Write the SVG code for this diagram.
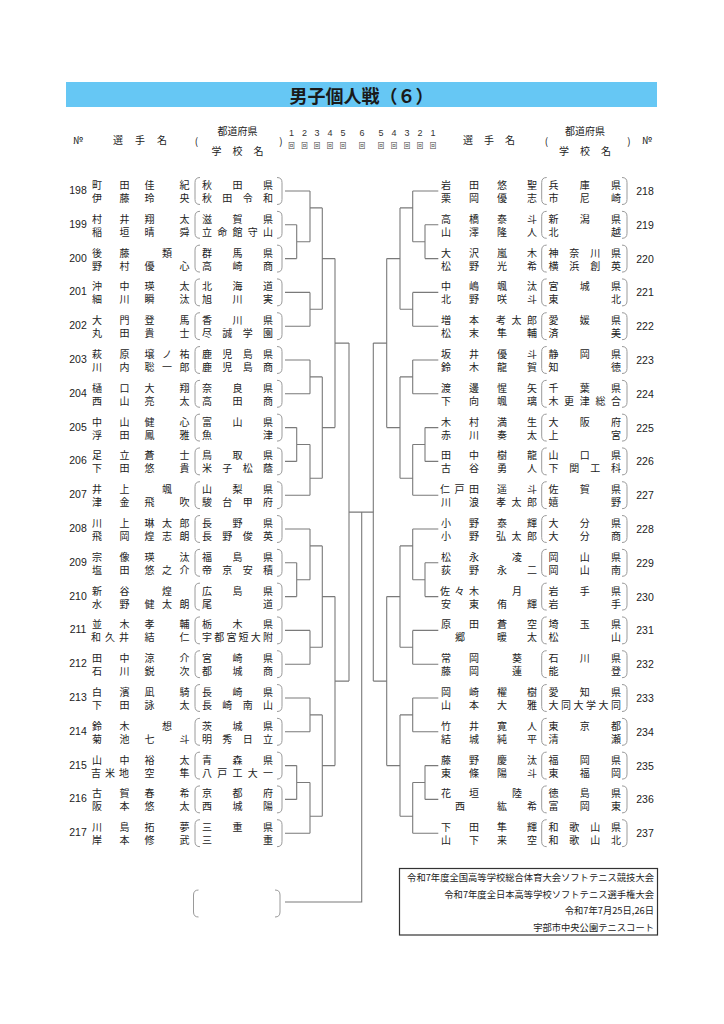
<svg xmlns="http://www.w3.org/2000/svg" xmlns:xlink="http://www.w3.org/1999/xlink" width="724" height="1024" viewBox="0 0 724 1024">
<style>
.t{font-family:"Noto Sans CJK JP","Noto Sans CJK SC",sans-serif;font-size:10px;fill:#222;text-anchor:middle;dominant-baseline:central}
.n{font-family:"Liberation Sans",Arial,sans-serif;font-size:10.5px;fill:#222;text-anchor:middle;dominant-baseline:central}
.h{font-family:"Noto Sans CJK JP","Noto Sans CJK SC",sans-serif;font-size:10px;fill:#222;text-anchor:middle;dominant-baseline:central}
.r{font-family:"Liberation Sans",Arial,sans-serif;font-size:9px;fill:#333;text-anchor:middle;dominant-baseline:central}
.k{font-family:"Noto Sans CJK JP",sans-serif;font-size:6.5px;fill:#444;text-anchor:middle;dominant-baseline:central}
.f{font-family:"Noto Sans CJK JP","Noto Sans CJK SC",sans-serif;font-size:9.3px;fill:#222;text-anchor:end;dominant-baseline:central}
.ln{fill:none;stroke:#7a7a7a;stroke-width:1.1}
.pp{fill:none;stroke:#9a9a9a;stroke-width:1}
</style>
<defs>
<path id="pl" class="pp" d="M5 -13.5 Q0 -13.5 0 -8.5 V8.5 Q0 13.5 5 13.5"/>
<path id="pr" class="pp" d="M-5 -13.5 Q0 -13.5 0 -8.5 V8.5 Q0 13.5 -5 13.5"/>
</defs>
<rect width="724" height="1024" fill="#fff"/>
<g id="title">
<rect x="66" y="82" width="591" height="25" fill="#66C7F4"/>
<text x="361.5" y="94.5" style="font-family:'Noto Sans CJK JP',sans-serif;font-size:18px;font-weight:700;fill:#1a1a1a;text-anchor:middle;dominant-baseline:central">男子個人戦（６）</text>
</g>
<g id="header">
<text class="h" x="78" y="139">№</text>
<text class="h" x="118 140 162" y="139">選手名</text>
<text class="h" x="196.5" y="140">(</text>
<text class="h" x="237.5" y="130">都道府県</text>
<text class="h" x="216.5 237.5 258.5" y="150">学校名</text>
<text class="h" x="281" y="140">)</text>
<text class="r" x="291.5 304.5 317 330 343 362 381 394 407 420 433" y="133">12345654321</text>
<text class="k" x="291.5 304.5 317 330 343 362 381 394 407 420 433" y="145">回回回回回回回回回回回</text>
<text class="h" x="468 489 510" y="139">選手名</text>
<text class="h" x="546.5" y="140">(</text>
<text class="h" x="585" y="130">都道府県</text>
<text class="h" x="564 585 606" y="150">学校名</text>
<text class="h" x="629" y="140">)</text>
<text class="h" x="647" y="139">№</text>
</g>
<g id="connectors" class="ln">
<path d="M285 191H310M285 224.8H296.7M285 258.6H296.7M296.7 224.8V258.6M296.7 241.7H310M310 191V241.7M310 207.9H322.3
M285 292.4H310M285 326.2H310M310 292.4V326.2M310 309.3H322.3M322.3 207.9V309.3M322.3 258.6H335
M285 360H310M285 393.8H310M310 360V393.8M310 376.9H322.3
M285 427.6H296.7M285 461.4H296.7M296.7 427.6V461.4M296.7 444.5H310M285 495.2H310M310 444.5V495.2M310 478.3H322.3
M322.3 376.9V478.3M322.3 427.6H335M335 258.6V427.6M335 343.1H349
M285 529H310M285 562.8H296.7M285 596.6H296.7M296.7 562.8V596.6M296.7 579.7H310M310 529V579.7M310 545.9H322.3
M285 630.4H310M285 664.2H310M310 630.4V664.2M310 647.3H322.3M322.3 545.9V647.3M322.3 596.6H335
M285 698H310M285 731.8H310M310 698V731.8M310 714.9H322.3
M285 765.6H296.7M285 799.4H296.7M296.7 765.6V799.4M296.7 782.5H310M285 833.2H310M310 782.5V833.2M310 816.3H322.3
M322.3 714.9V816.3M322.3 765.6H335M335 596.6V765.6M335 681.1H349M349 343.1V681.1"/>
<path d="M438.3 191H412.7M438.3 224.8H425M438.3 258.6H425M425 224.8V258.6M425 241.7H412.7M412.7 191V241.7M412.7 207.9H400
M438.3 292.4H412.7M438.3 326.2H412.7M412.7 292.4V326.2M412.7 309.3H400M400 207.9V309.3M400 258.6H386.7
M438.3 360H412.7M438.3 393.8H412.7M412.7 360V393.8M412.7 376.9H400
M438.3 427.6H425M438.3 461.4H425M425 427.6V461.4M425 444.5H412.7M438.3 495.2H412.7M412.7 444.5V495.2M412.7 478.3H400
M400 376.9V478.3M400 427.6H386.7M386.7 258.6V427.6M386.7 343.1H373.3
M438.3 529H412.7M438.3 562.8H425M438.3 596.6H425M425 562.8V596.6M425 579.7H412.7M412.7 529V579.7M412.7 545.9H400
M438.3 630.4H412.7M438.3 664.2H412.7M412.7 630.4V664.2M412.7 647.3H400M400 545.9V647.3M400 596.6H386.7
M438.3 698H412.7M438.3 731.8H412.7M412.7 698V731.8M412.7 714.9H400
M438.3 765.6H425M438.3 799.4H425M425 765.6V799.4M425 782.5H412.7M438.3 833.2H412.7M412.7 782.5V833.2M412.7 816.3H400
M400 714.9V816.3M400 765.6H386.7M386.7 596.6V765.6M386.7 681.1H373.3M373.3 343.1V681.1"/>
<path d="M349 512.1H373.3M361.7 512.1V902H285"/>
</g>
<g id="e198" transform="translate(0,191)"><text class="n" x="78" y="-1">198</text><text class="t" x="97 124.5" y="-6.5">町田</text><text class="t" x="149.5 184.5" y="-6.5">佳紀</text><text class="t" x="97 124.5" y="6.5">伊藤</text><text class="t" x="149.5 184.5" y="6.5">玲央</text><use href="#pl" x="195"/><use href="#pr" x="282"/><text class="t" x="207 237.5 268" y="-6.5">秋田県</text><text class="t" x="207 227.3 247.7 268" y="6.5">秋田令和</text></g>
<g id="e199" transform="translate(0,224.8)"><text class="n" x="78" y="-1">199</text><text class="t" x="97 124.5" y="-6.5">村井</text><text class="t" x="149.5 184.5" y="-6.5">翔太</text><text class="t" x="97 124.5" y="6.5">稲垣</text><text class="t" x="149.5 184.5" y="6.5">晴舜</text><use href="#pl" x="195"/><use href="#pr" x="282"/><text class="t" x="207 237.5 268" y="-6.5">滋賀県</text><text class="t" x="207 222.3 237.5 252.8 268" y="6.5">立命館守山</text></g>
<g id="e200" transform="translate(0,258.6)"><text class="n" x="78" y="-1">200</text><text class="t" x="97 124.5" y="-6.5">後藤</text><text class="t" x="167" y="-6.5">類</text><text class="t" x="97 124.5" y="6.5">野村</text><text class="t" x="149.5 184.5" y="6.5">優心</text><use href="#pl" x="195"/><use href="#pr" x="282"/><text class="t" x="207 237.5 268" y="-6.5">群馬県</text><text class="t" x="207 237.5 268" y="6.5">高崎商</text></g>
<g id="e201" transform="translate(0,292.4)"><text class="n" x="78" y="-1">201</text><text class="t" x="97 124.5" y="-6.5">沖中</text><text class="t" x="149.5 184.5" y="-6.5">瑛太</text><text class="t" x="97 124.5" y="6.5">細川</text><text class="t" x="149.5 184.5" y="6.5">瞬汰</text><use href="#pl" x="195"/><use href="#pr" x="282"/><text class="t" x="207 237.5 268" y="-6.5">北海道</text><text class="t" x="207 237.5 268" y="6.5">旭川実</text></g>
<g id="e202" transform="translate(0,326.2)"><text class="n" x="78" y="-1">202</text><text class="t" x="97 124.5" y="-6.5">大門</text><text class="t" x="149.5 184.5" y="-6.5">登馬</text><text class="t" x="97 124.5" y="6.5">丸田</text><text class="t" x="149.5 184.5" y="6.5">貴士</text><use href="#pl" x="195"/><use href="#pr" x="282"/><text class="t" x="207 237.5 268" y="-6.5">香川県</text><text class="t" x="207 227.3 247.7 268" y="6.5">尽誠学園</text></g>
<g id="e203" transform="translate(0,360)"><text class="n" x="78" y="-1">203</text><text class="t" x="97 124.5" y="-6.5">萩原</text><text class="t" x="149.5 167 184.5" y="-6.5">壌ノ祐</text><text class="t" x="97 124.5" y="6.5">川内</text><text class="t" x="149.5 167 184.5" y="6.5">聡一郎</text><use href="#pl" x="195"/><use href="#pr" x="282"/><text class="t" x="207 227.3 247.7 268" y="-6.5">鹿児島県</text><text class="t" x="207 227.3 247.7 268" y="6.5">鹿児島商</text></g>
<g id="e204" transform="translate(0,393.8)"><text class="n" x="78" y="-1">204</text><text class="t" x="97 124.5" y="-6.5">樋口</text><text class="t" x="149.5 184.5" y="-6.5">大翔</text><text class="t" x="97 124.5" y="6.5">西山</text><text class="t" x="149.5 184.5" y="6.5">亮太</text><use href="#pl" x="195"/><use href="#pr" x="282"/><text class="t" x="207 237.5 268" y="-6.5">奈良県</text><text class="t" x="207 237.5 268" y="6.5">高田商</text></g>
<g id="e205" transform="translate(0,427.6)"><text class="n" x="78" y="-1">205</text><text class="t" x="97 124.5" y="-6.5">中山</text><text class="t" x="149.5 184.5" y="-6.5">健心</text><text class="t" x="97 124.5" y="6.5">浮田</text><text class="t" x="149.5 184.5" y="6.5">鳳雅</text><use href="#pl" x="195"/><use href="#pr" x="282"/><text class="t" x="207 237.5 268" y="-6.5">富山県</text><text class="t" x="207 268" y="6.5">魚津</text></g>
<g id="e206" transform="translate(0,461.4)"><text class="n" x="78" y="-1">206</text><text class="t" x="97 124.5" y="-6.5">足立</text><text class="t" x="149.5 184.5" y="-6.5">蒼士</text><text class="t" x="97 124.5" y="6.5">下田</text><text class="t" x="149.5 184.5" y="6.5">悠貴</text><use href="#pl" x="195"/><use href="#pr" x="282"/><text class="t" x="207 237.5 268" y="-6.5">鳥取県</text><text class="t" x="207 227.3 247.7 268" y="6.5">米子松蔭</text></g>
<g id="e207" transform="translate(0,495.2)"><text class="n" x="78" y="-1">207</text><text class="t" x="97 124.5" y="-6.5">井上</text><text class="t" x="167" y="-6.5">颯</text><text class="t" x="97 124.5" y="6.5">津金</text><text class="t" x="149.5 184.5" y="6.5">飛吹</text><use href="#pl" x="195"/><use href="#pr" x="282"/><text class="t" x="207 237.5 268" y="-6.5">山梨県</text><text class="t" x="207 227.3 247.7 268" y="6.5">駿台甲府</text></g>
<g id="e208" transform="translate(0,529)"><text class="n" x="78" y="-1">208</text><text class="t" x="97 124.5" y="-6.5">川上</text><text class="t" x="149.5 167 184.5" y="-6.5">琳太郎</text><text class="t" x="97 124.5" y="6.5">飛岡</text><text class="t" x="149.5 167 184.5" y="6.5">煌志朗</text><use href="#pl" x="195"/><use href="#pr" x="282"/><text class="t" x="207 237.5 268" y="-6.5">長野県</text><text class="t" x="207 227.3 247.7 268" y="6.5">長野俊英</text></g>
<g id="e209" transform="translate(0,562.8)"><text class="n" x="78" y="-1">209</text><text class="t" x="97 124.5" y="-6.5">宗像</text><text class="t" x="149.5 184.5" y="-6.5">瑛汰</text><text class="t" x="97 124.5" y="6.5">塩田</text><text class="t" x="149.5 167 184.5" y="6.5">悠之介</text><use href="#pl" x="195"/><use href="#pr" x="282"/><text class="t" x="207 237.5 268" y="-6.5">福島県</text><text class="t" x="207 227.3 247.7 268" y="6.5">帝京安積</text></g>
<g id="e210" transform="translate(0,596.6)"><text class="n" x="78" y="-1">210</text><text class="t" x="97 124.5" y="-6.5">新谷</text><text class="t" x="167" y="-6.5">煌</text><text class="t" x="97 124.5" y="6.5">水野</text><text class="t" x="149.5 167 184.5" y="6.5">健太朗</text><use href="#pl" x="195"/><use href="#pr" x="282"/><text class="t" x="207 237.5 268" y="-6.5">広島県</text><text class="t" x="207 268" y="6.5">尾道</text></g>
<g id="e211" transform="translate(0,630.4)"><text class="n" x="78" y="-1">211</text><text class="t" x="97 124.5" y="-6.5">並木</text><text class="t" x="149.5 184.5" y="-6.5">孝輔</text><text class="t" x="96 110 124" y="6.5">和久井</text><text class="t" x="149.5 184.5" y="6.5">結仁</text><use href="#pl" x="195"/><use href="#pr" x="282"/><text class="t" x="207 237.5 268" y="-6.5">栃木県</text><text class="t" x="207 219.2 231.4 243.6 255.8 268" y="6.5">宇都宮短大附</text></g>
<g id="e212" transform="translate(0,664.2)"><text class="n" x="78" y="-1">212</text><text class="t" x="97 124.5" y="-6.5">田中</text><text class="t" x="149.5 184.5" y="-6.5">涼介</text><text class="t" x="97 124.5" y="6.5">石川</text><text class="t" x="149.5 184.5" y="6.5">鋭次</text><use href="#pl" x="195"/><use href="#pr" x="282"/><text class="t" x="207 237.5 268" y="-6.5">宮崎県</text><text class="t" x="207 237.5 268" y="6.5">都城商</text></g>
<g id="e213" transform="translate(0,698)"><text class="n" x="78" y="-1">213</text><text class="t" x="97 124.5" y="-6.5">白濱</text><text class="t" x="149.5 184.5" y="-6.5">凪騎</text><text class="t" x="97 124.5" y="6.5">下田</text><text class="t" x="149.5 184.5" y="6.5">詠太</text><use href="#pl" x="195"/><use href="#pr" x="282"/><text class="t" x="207 237.5 268" y="-6.5">長崎県</text><text class="t" x="207 227.3 247.7 268" y="6.5">長崎南山</text></g>
<g id="e214" transform="translate(0,731.8)"><text class="n" x="78" y="-1">214</text><text class="t" x="97 124.5" y="-6.5">鈴木</text><text class="t" x="167" y="-6.5">想</text><text class="t" x="97 124.5" y="6.5">菊池</text><text class="t" x="149.5 184.5" y="6.5">七斗</text><use href="#pl" x="195"/><use href="#pr" x="282"/><text class="t" x="207 237.5 268" y="-6.5">茨城県</text><text class="t" x="207 227.3 247.7 268" y="6.5">明秀日立</text></g>
<g id="e215" transform="translate(0,765.6)"><text class="n" x="78" y="-1">215</text><text class="t" x="97 124.5" y="-6.5">山中</text><text class="t" x="149.5 184.5" y="-6.5">裕太</text><text class="t" x="96 110 124" y="6.5">吉米地</text><text class="t" x="149.5 184.5" y="6.5">空隼</text><use href="#pl" x="195"/><use href="#pr" x="282"/><text class="t" x="207 237.5 268" y="-6.5">青森県</text><text class="t" x="207 222.3 237.5 252.8 268" y="6.5">八戸工大一</text></g>
<g id="e216" transform="translate(0,799.4)"><text class="n" x="78" y="-1">216</text><text class="t" x="97 124.5" y="-6.5">古賀</text><text class="t" x="149.5 184.5" y="-6.5">春希</text><text class="t" x="97 124.5" y="6.5">阪本</text><text class="t" x="149.5 184.5" y="6.5">悠太</text><use href="#pl" x="195"/><use href="#pr" x="282"/><text class="t" x="207 237.5 268" y="-6.5">京都府</text><text class="t" x="207 237.5 268" y="6.5">西城陽</text></g>
<g id="e217" transform="translate(0,833.2)"><text class="n" x="78" y="-1">217</text><text class="t" x="97 124.5" y="-6.5">川島</text><text class="t" x="149.5 184.5" y="-6.5">拓夢</text><text class="t" x="97 124.5" y="6.5">岸本</text><text class="t" x="149.5 184.5" y="6.5">修武</text><use href="#pl" x="195"/><use href="#pr" x="282"/><text class="t" x="207 237.5 268" y="-6.5">三重県</text><text class="t" x="207 268" y="6.5">三重</text></g>
<g id="e218" transform="translate(0,191)"><text class="n" x="645" y="0">218</text><text class="t" x="446 474" y="-6.5">岩田</text><text class="t" x="502 532" y="-6.5">悠聖</text><text class="t" x="446 474" y="6.5">栗岡</text><text class="t" x="502 532" y="6.5">優志</text><use href="#pl" x="541.7"/><use href="#pr" x="627"/><text class="t" x="553.5 584.8 616" y="-6.5">兵庫県</text><text class="t" x="553.5 584.8 616" y="6.5">市尼崎</text></g>
<g id="e219" transform="translate(0,224.8)"><text class="n" x="645" y="0">219</text><text class="t" x="446 474" y="-6.5">高橋</text><text class="t" x="502 532" y="-6.5">泰斗</text><text class="t" x="446 474" y="6.5">山澤</text><text class="t" x="502 532" y="6.5">隆人</text><use href="#pl" x="541.7"/><use href="#pr" x="627"/><text class="t" x="553.5 584.8 616" y="-6.5">新潟県</text><text class="t" x="553.5 616" y="6.5">北越</text></g>
<g id="e220" transform="translate(0,258.6)"><text class="n" x="645" y="0">220</text><text class="t" x="446 474" y="-6.5">大沢</text><text class="t" x="502 532" y="-6.5">嵐木</text><text class="t" x="446 474" y="6.5">松野</text><text class="t" x="502 532" y="6.5">光希</text><use href="#pl" x="541.7"/><use href="#pr" x="627"/><text class="t" x="553.5 574.3 595.2 616" y="-6.5">神奈川県</text><text class="t" x="553.5 574.3 595.2 616" y="6.5">横浜創英</text></g>
<g id="e221" transform="translate(0,292.4)"><text class="n" x="645" y="0">221</text><text class="t" x="446 474" y="-6.5">中嶋</text><text class="t" x="502 532" y="-6.5">颯汰</text><text class="t" x="446 474" y="6.5">北野</text><text class="t" x="502 532" y="6.5">咲斗</text><use href="#pl" x="541.7"/><use href="#pr" x="627"/><text class="t" x="553.5 584.8 616" y="-6.5">宮城県</text><text class="t" x="553.5 616" y="6.5">東北</text></g>
<g id="e222" transform="translate(0,326.2)"><text class="n" x="645" y="0">222</text><text class="t" x="446 474" y="-6.5">増本</text><text class="t" x="501 516.5 532" y="-6.5">考太郎</text><text class="t" x="446 474" y="6.5">松末</text><text class="t" x="502 532" y="6.5">隼輔</text><use href="#pl" x="541.7"/><use href="#pr" x="627"/><text class="t" x="553.5 584.8 616" y="-6.5">愛媛県</text><text class="t" x="553.5 616" y="6.5">済美</text></g>
<g id="e223" transform="translate(0,360)"><text class="n" x="645" y="0">223</text><text class="t" x="446 474" y="-6.5">坂井</text><text class="t" x="502 532" y="-6.5">優斗</text><text class="t" x="446 474" y="6.5">鈴木</text><text class="t" x="502 532" y="6.5">龍賀</text><use href="#pl" x="541.7"/><use href="#pr" x="627"/><text class="t" x="553.5 584.8 616" y="-6.5">静岡県</text><text class="t" x="553.5 616" y="6.5">知徳</text></g>
<g id="e224" transform="translate(0,393.8)"><text class="n" x="645" y="0">224</text><text class="t" x="446 474" y="-6.5">渡邊</text><text class="t" x="502 532" y="-6.5">惺矢</text><text class="t" x="446 474" y="6.5">下向</text><text class="t" x="502 532" y="6.5">颯璃</text><use href="#pl" x="541.7"/><use href="#pr" x="627"/><text class="t" x="553.5 584.8 616" y="-6.5">千葉県</text><text class="t" x="553.5 569.1 584.8 600.4 616" y="6.5">木更津総合</text></g>
<g id="e225" transform="translate(0,427.6)"><text class="n" x="645" y="0">225</text><text class="t" x="446 474" y="-6.5">木村</text><text class="t" x="502 532" y="-6.5">満生</text><text class="t" x="446 474" y="6.5">赤川</text><text class="t" x="502 532" y="6.5">奏太</text><use href="#pl" x="541.7"/><use href="#pr" x="627"/><text class="t" x="553.5 584.8 616" y="-6.5">大阪府</text><text class="t" x="553.5 616" y="6.5">上宮</text></g>
<g id="e226" transform="translate(0,461.4)"><text class="n" x="645" y="0">226</text><text class="t" x="446 474" y="-6.5">田中</text><text class="t" x="502 532" y="-6.5">樹龍</text><text class="t" x="446 474" y="6.5">古谷</text><text class="t" x="502 532" y="6.5">勇人</text><use href="#pl" x="541.7"/><use href="#pr" x="627"/><text class="t" x="553.5 584.8 616" y="-6.5">山口県</text><text class="t" x="553.5 574.3 595.2 616" y="6.5">下関工科</text></g>
<g id="e227" transform="translate(0,495.2)"><text class="n" x="645" y="0">227</text><text class="t" x="445 459.5 474" y="-6.5">仁戸田</text><text class="t" x="502 532" y="-6.5">遥斗</text><text class="t" x="446 474" y="6.5">川浪</text><text class="t" x="501 516.5 532" y="6.5">孝太郎</text><use href="#pl" x="541.7"/><use href="#pr" x="627"/><text class="t" x="553.5 584.8 616" y="-6.5">佐賀県</text><text class="t" x="553.5 616" y="6.5">嬉野</text></g>
<g id="e228" transform="translate(0,529)"><text class="n" x="645" y="0">228</text><text class="t" x="446 474" y="-6.5">小野</text><text class="t" x="502 532" y="-6.5">泰輝</text><text class="t" x="446 474" y="6.5">小野</text><text class="t" x="501 516.5 532" y="6.5">弘太郎</text><use href="#pl" x="541.7"/><use href="#pr" x="627"/><text class="t" x="553.5 584.8 616" y="-6.5">大分県</text><text class="t" x="553.5 584.8 616" y="6.5">大分商</text></g>
<g id="e229" transform="translate(0,562.8)"><text class="n" x="645" y="0">229</text><text class="t" x="446 474" y="-6.5">松永</text><text class="t" x="517" y="-6.5">凌</text><text class="t" x="446 474" y="6.5">荻野</text><text class="t" x="502 532" y="6.5">永二</text><use href="#pl" x="541.7"/><use href="#pr" x="627"/><text class="t" x="553.5 584.8 616" y="-6.5">岡山県</text><text class="t" x="553.5 584.8 616" y="6.5">岡山南</text></g>
<g id="e230" transform="translate(0,596.6)"><text class="n" x="645" y="0">230</text><text class="t" x="445 459.5 474" y="-6.5">佐々木</text><text class="t" x="517" y="-6.5">月</text><text class="t" x="446 474" y="6.5">安東</text><text class="t" x="502 532" y="6.5">侑輝</text><use href="#pl" x="541.7"/><use href="#pr" x="627"/><text class="t" x="553.5 584.8 616" y="-6.5">岩手県</text><text class="t" x="553.5 616" y="6.5">岩手</text></g>
<g id="e231" transform="translate(0,630.4)"><text class="n" x="645" y="0">231</text><text class="t" x="446 474" y="-6.5">原田</text><text class="t" x="502 532" y="-6.5">蒼空</text><text class="t" x="460" y="6.5">郷</text><text class="t" x="502 532" y="6.5">暖太</text><use href="#pl" x="541.7"/><use href="#pr" x="627"/><text class="t" x="553.5 584.8 616" y="-6.5">埼玉県</text><text class="t" x="553.5 616" y="6.5">松山</text></g>
<g id="e232" transform="translate(0,664.2)"><text class="n" x="645" y="0">232</text><text class="t" x="446 474" y="-6.5">常岡</text><text class="t" x="517" y="-6.5">葵</text><text class="t" x="446 474" y="6.5">藤岡</text><text class="t" x="517" y="6.5">蓮</text><use href="#pl" x="541.7"/><use href="#pr" x="627"/><text class="t" x="553.5 584.8 616" y="-6.5">石川県</text><text class="t" x="553.5 616" y="6.5">能登</text></g>
<g id="e233" transform="translate(0,698)"><text class="n" x="645" y="0">233</text><text class="t" x="446 474" y="-6.5">岡崎</text><text class="t" x="502 532" y="-6.5">櫂樹</text><text class="t" x="446 474" y="6.5">山本</text><text class="t" x="502 532" y="6.5">大雅</text><use href="#pl" x="541.7"/><use href="#pr" x="627"/><text class="t" x="553.5 584.8 616" y="-6.5">愛知県</text><text class="t" x="553.5 566 578.5 591 603.5 616" y="6.5">大同大学大同</text></g>
<g id="e234" transform="translate(0,731.8)"><text class="n" x="645" y="0">234</text><text class="t" x="446 474" y="-6.5">竹井</text><text class="t" x="502 532" y="-6.5">寛人</text><text class="t" x="446 474" y="6.5">結城</text><text class="t" x="502 532" y="6.5">純平</text><use href="#pl" x="541.7"/><use href="#pr" x="627"/><text class="t" x="553.5 584.8 616" y="-6.5">東京都</text><text class="t" x="553.5 616" y="6.5">清瀬</text></g>
<g id="e235" transform="translate(0,765.6)"><text class="n" x="645" y="0">235</text><text class="t" x="446 474" y="-6.5">藤野</text><text class="t" x="502 532" y="-6.5">慶汰</text><text class="t" x="446 474" y="6.5">東條</text><text class="t" x="502 532" y="6.5">陽斗</text><use href="#pl" x="541.7"/><use href="#pr" x="627"/><text class="t" x="553.5 584.8 616" y="-6.5">福岡県</text><text class="t" x="553.5 584.8 616" y="6.5">東福岡</text></g>
<g id="e236" transform="translate(0,799.4)"><text class="n" x="645" y="0">236</text><text class="t" x="446 474" y="-6.5">花垣</text><text class="t" x="517" y="-6.5">陸</text><text class="t" x="460" y="6.5">西</text><text class="t" x="502 532" y="6.5">紘希</text><use href="#pl" x="541.7"/><use href="#pr" x="627"/><text class="t" x="553.5 584.8 616" y="-6.5">徳島県</text><text class="t" x="553.5 584.8 616" y="6.5">富岡東</text></g>
<g id="e237" transform="translate(0,833.2)"><text class="n" x="645" y="0">237</text><text class="t" x="446 474" y="-6.5">下田</text><text class="t" x="502 532" y="-6.5">隼輝</text><text class="t" x="446 474" y="6.5">山下</text><text class="t" x="502 532" y="6.5">来空</text><use href="#pl" x="541.7"/><use href="#pr" x="627"/><text class="t" x="553.5 574.3 595.2 616" y="-6.5">和歌山県</text><text class="t" x="553.5 574.3 595.2 616" y="6.5">和歌山北</text></g>
<g id="winner" transform="translate(0,903.5)"><use href="#pl" x="193.5"/><use href="#pr" x="280"/></g>
<g id="footer">
<rect x="399.5" y="868.5" width="258" height="66.5" fill="#fff" stroke="#333" stroke-width="1.2"/>
<text class="f" x="654" y="877">令和7年度全国高等学校総合体育大会ソフトテニス競技大会</text>
<text class="f" x="654" y="893.5">令和7年度全日本高等学校ソフトテニス選手権大会</text>
<text class="f" x="654" y="910">令和7年7月25日,26日</text>
<text class="f" x="654" y="926.5">宇部市中央公園テニスコート</text>
</g>
</svg>
